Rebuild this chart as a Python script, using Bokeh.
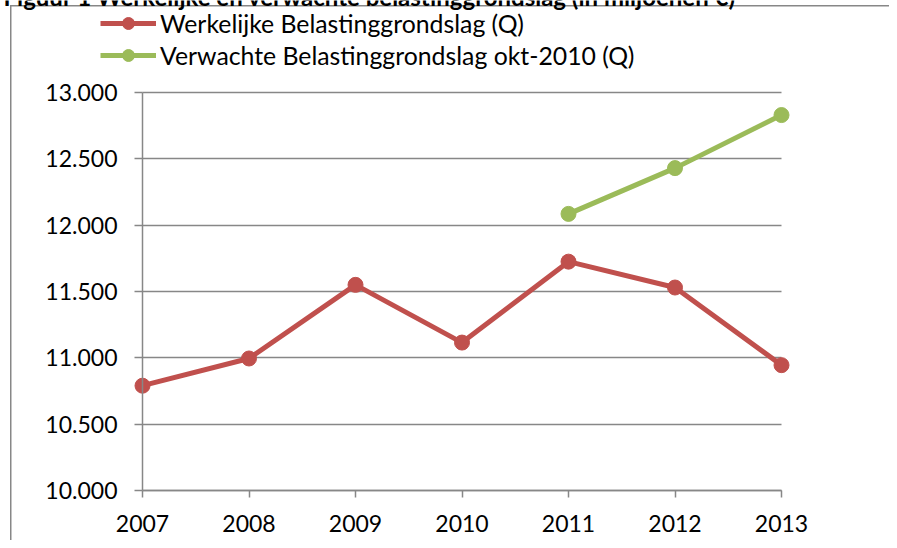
from bokeh.plotting import figure
from bokeh.models import FixedTicker, Legend, LegendItem, Label, Range1d
from bokeh.embed import file_html
from bokeh.resources import INLINE

# ---- data ----
years = [2007, 2008, 2009, 2010, 2011, 2012, 2013]
werkelijk = [10790, 10995, 11550, 11115, 11725, 11530, 10945]
verwacht_years = [2011, 2012, 2013]
verwacht = [12085, 12430, 12830]
y_ticks = [10000, 10500, 11000, 11500, 12000, 12500, 13000]
y_tick_labels = ["10.000", "10.500", "11.000", "11.500", "12.000", "12.500", "13.000"]
x_tick_labels = ["2007", "2008", "2009", "2010", "2011", "2012", "2013"]
series_names = ["Werkelijke Belastinggrondslag (Q)", "Verwachte Belastinggrondslag okt-2010 (Q)"]
title_text = "Figuur 1 Werkelijke en verwachte belastinggrondslag (in miljoenen €)"

RED = "#C0504D"
GREEN = "#9BBB59"
GREY = "#878787"
FONT = "Lato"

# ---- layout (pixels) ----
W, H = 889, 540
PL, PR, PT, PB = 142, 781, 92, 490   # plot area corners on the canvas
x0, x1 = years[0], years[-1]
y0, y1 = y_ticks[0], y_ticks[-1]
xs = (x1 - x0) / (PR - PL)
ys = (y1 - y0) / (PB - PT)
x_range = Range1d(x0 - PL * xs, x1 + (W - PR) * xs)
y_range = Range1d(y0 - (H - PB) * ys, y1 + PT * ys)

# thin grey top/left edge of the chart object, drawn behind a transparent canvas
edge_bg = ("linear-gradient(#878787, #878787) 10px 5px / 100% 1.5px no-repeat, "
           "linear-gradient(#878787, #878787) 10px 5px / 1.5px 100% no-repeat, white")

p = figure(width=W, height=H, x_range=x_range, y_range=y_range,
           output_backend="svg", toolbar_location=None,
           min_border_left=0, min_border_right=0,
           min_border_top=0, min_border_bottom=0,
           x_axis_location="below", y_axis_location="left",
           styles={"background": edge_bg})
p.outline_line_color = None
p.background_fill_color = None
p.border_fill_color = None

# grid
p.xgrid.visible = False
p.ygrid.ticker = FixedTicker(ticks=y_ticks)
p.ygrid.grid_line_color = GREY
p.ygrid.grid_line_width = 1.5
if "cross_bounds" in p.ygrid.properties():
    p.ygrid.cross_bounds = (x0, x1)
else:
    p.ygrid.visible = False
    p.segment(x0=[x0] * len(y_ticks), x1=[x1] * len(y_ticks), y0=y_ticks, y1=y_ticks,
              line_color=GREY, line_width=1.5, level="underlay")

# y axis
p.yaxis.fixed_location = x0
p.yaxis.bounds = (y0, y1)
p.yaxis.ticker = FixedTicker(ticks=y_ticks)
p.yaxis.major_label_overrides = {t: l for t, l in zip(y_ticks, y_tick_labels)}
p.yaxis.major_tick_in = 0
p.yaxis.major_tick_out = 8
p.yaxis.minor_tick_line_color = None
p.yaxis.axis_line_color = GREY
p.yaxis.axis_line_width = 1.5
p.yaxis.major_tick_line_color = GREY
p.yaxis.major_tick_line_width = 1.5
p.yaxis.major_label_text_font = FONT
p.yaxis.major_label_text_font_size = "23px"
p.yaxis.major_label_text_color = "black"
p.yaxis.major_label_standoff = 17

# x axis
p.xaxis.fixed_location = y0
p.xaxis.bounds = (x0, x1)
p.xaxis.ticker = FixedTicker(ticks=years)
p.xaxis.major_label_overrides = {t: l for t, l in zip(years, x_tick_labels)}
p.xaxis.major_tick_in = 0
p.xaxis.major_tick_out = 7
p.xaxis.minor_tick_line_color = None
p.xaxis.axis_line_color = GREY
p.xaxis.axis_line_width = 1.5
p.xaxis.major_tick_line_color = GREY
p.xaxis.major_tick_line_width = 1.5
p.xaxis.major_label_text_font = FONT
p.xaxis.major_label_text_font_size = "23px"
p.xaxis.major_label_text_color = "black"
p.xaxis.major_label_standoff = 17

# series
r1 = p.line(years, werkelijk, line_color=RED, line_width=5)
m1 = p.scatter(years, werkelijk, size=15, fill_color=RED, line_color=RED)
r2 = p.line(verwacht_years, verwacht, line_color=GREEN, line_width=5)
m2 = p.scatter(verwacht_years, verwacht, size=15, fill_color=GREEN, line_color=GREEN)

legend = Legend(items=[LegendItem(label=series_names[0], renderers=[r1, m1]),
                       LegendItem(label=series_names[1], renderers=[r2, m2])],
                location=(100, H - 8 - 62), orientation="vertical",
                padding=0, margin=0, spacing=2,
                glyph_width=56, glyph_height=30, label_height=30,
                label_standoff=4,
                label_text_font=FONT, label_text_font_size="24.8px",
                label_text_color="black",
                border_line_color=None, background_fill_alpha=0)
p.add_layout(legend, "center")

# caption, cut off at the top edge as in the source
caption = Label(x=3, y=H + 4, x_units="screen", y_units="screen",
                text=title_text, text_font=FONT, text_font_style="bold",
                text_font_size="24px", text_color="black",
                text_baseline="alphabetic", text_align="left")
p.add_layout(caption)

open("out.html", "w").write(file_html(p, INLINE))
